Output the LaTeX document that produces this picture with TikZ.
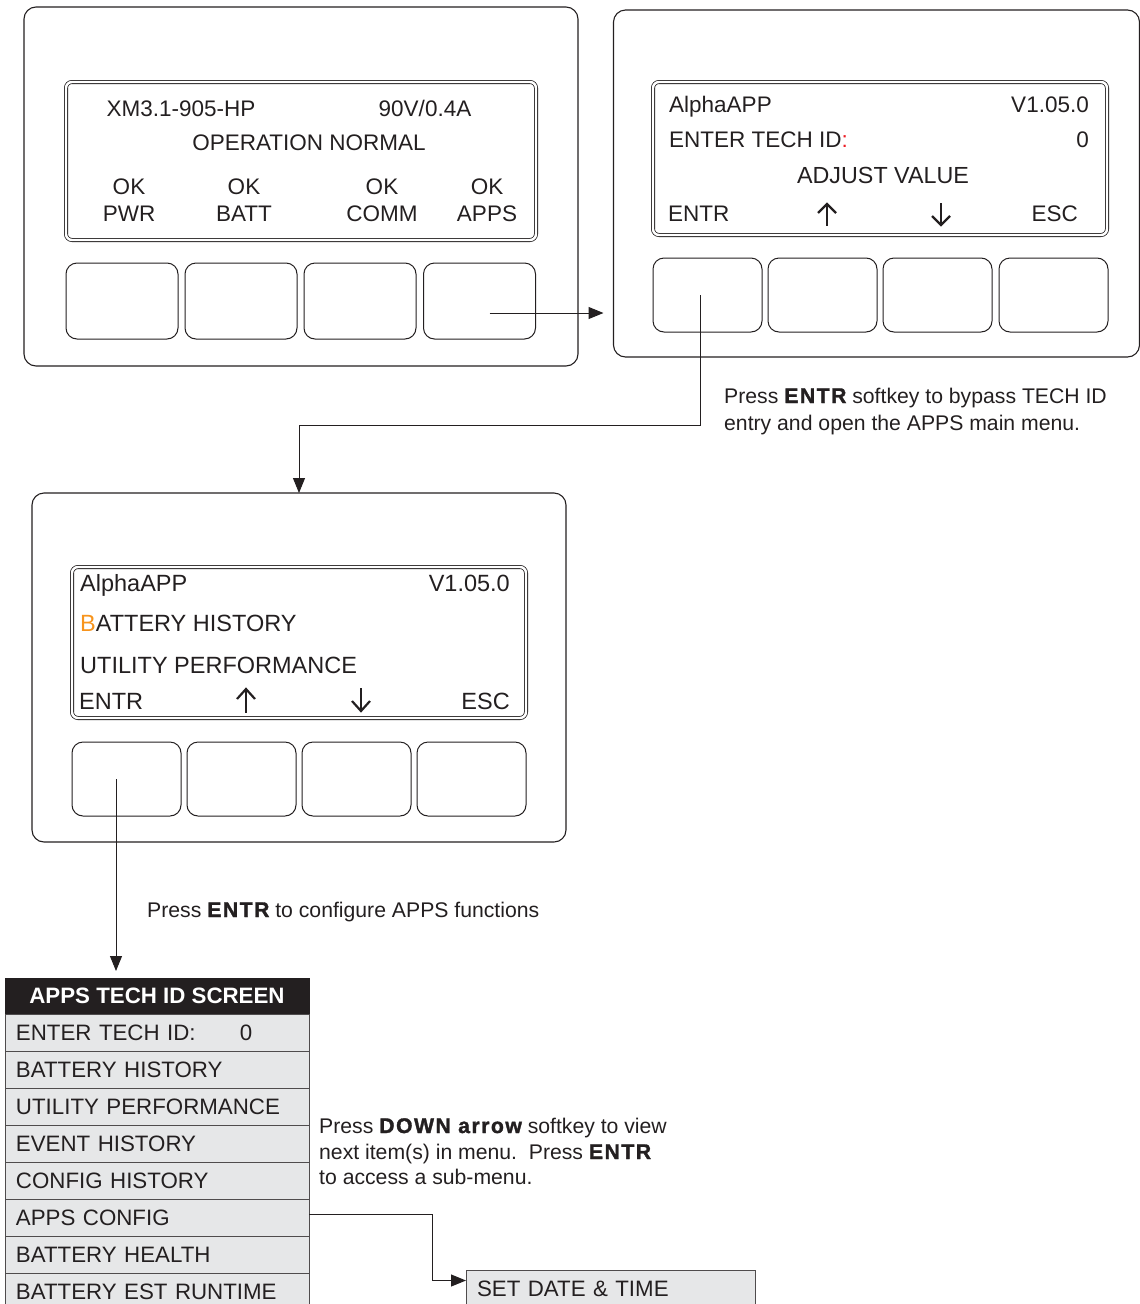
\documentclass[tikz,border=0pt]{standalone}
\usepackage{fontspec}
\setmainfont{Liberation Sans}
\newfontface\heavy{Liberation Sans Bold}[FakeBold=1.5, LetterSpace=7]
\newcommand{\hv}[1]{{\heavy #1}}
\usetikzlibrary{arrows.meta,calc}
\definecolor{ink}{HTML}{231F20}
\definecolor{rowgray}{HTML}{E6E7E8}
\definecolor{hiorange}{HTML}{F7941D}
\definecolor{hired}{HTML}{ED1C24}
\begin{document}
\begin{tikzpicture}[x=1pt,y=-1pt,
  every node/.append style={text=ink},
  panel/.style={draw=ink, line width=1.1pt, rounded corners=12pt, inner sep=0pt, outer sep=0pt},
  screen/.style={draw=ink, line width=0.8pt, double=white, double distance=2.4pt, rounded corners=6pt, inner sep=0pt, outer sep=0pt},
  btnA/.style={draw=ink, line width=1pt, rounded corners=11pt, minimum width=112pt, minimum height=76pt, inner sep=0pt, outer sep=0pt},
  btnB/.style={draw=ink, line width=1pt, rounded corners=11pt, minimum width=109pt, minimum height=74pt, inner sep=0pt, outer sep=0pt},
  lcd/.style={font=\fontsize{22.5}{26}\selectfont, inner sep=0pt},
  lcdb/.style={font=\fontsize{23.5}{27}\selectfont, inner sep=0pt},
  note/.style={font=\fontsize{21.2}{25}\selectfont, inner sep=0pt, anchor=base west},
  arr/.style={draw=ink, line width=1pt, -{Triangle[length=15pt,width=12pt]}},
  glyph/.style={draw=ink, line width=2.2pt},
  hdr/.style={fill=ink, draw=ink, line width=0.8pt, minimum width=304pt, minimum height=36pt, inner sep=0pt, outer sep=0pt, font=\fontsize{22.3}{25}\bfseries\selectfont, text=white},
  mrow/.style={fill=rowgray, draw=ink!80, line width=1pt, minimum height=37pt, text width=282pt, inner xsep=11pt, inner ysep=0pt, outer sep=0pt, align=left, anchor=north west, font=\fontsize{22.3}{25}\selectfont},
]
\useasboundingbox (0,0) rectangle (1140,1304);

% ---------------- Panel 1 ----------------
\node[panel, minimum width=554pt, minimum height=359pt] (p1) at (301,186.5) {};
\node[screen, minimum width=470pt, minimum height=158pt] (p1s) at (301,161) {};
\node[btnA] (p1b1) at (122,301) {};
\node[btnA] (p1b2) at (241,301) {};
\node[btnA] (p1b3) at (360,301) {};
\node[btnA] (p1b4) at (479.5,301) {};
\node[lcd, anchor=base] (t11) at (181,116) {XM3.1-905-HP};
\node[lcd, anchor=base] (t12) at (425,116) {90V/0.4A};
\node[lcd, anchor=base] (t13) at (309,150) {OPERATION NORMAL};
\node[lcd, anchor=base] (t14) at (129,194) {OK};
\node[lcd, anchor=base] (t15) at (129,221) {PWR};
\node[lcd, anchor=base] (t16) at (244,194) {OK};
\node[lcd, anchor=base] (t17) at (244,221) {BATT};
\node[lcd, anchor=base] (t18) at (382,194) {OK};
\node[lcd, anchor=base] (t19) at (382,221) {COMM};
\node[lcd, anchor=base] (t1a) at (487,194) {OK};
\node[lcd, anchor=base] (t1b) at (487,221) {APPS};

% ---------------- Panel 2 ----------------
\node[panel, minimum width=526pt, minimum height=347pt] (p2) at (876.5,183.5) {};
\node[screen, minimum width=454pt, minimum height=153pt] (p2s) at (880,158.5) {};
\node[btnB] (p2b1) at (707.5,295) {};
\node[btnB] (p2b2) at (822.5,295) {};
\node[btnB] (p2b3) at (937.5,295) {};
\node[btnB] (p2b4) at (1053.5,295) {};
\node[lcd, anchor=base west] (t21) at (669,112) {AlphaAPP};
\node[lcd, anchor=base east] (t22) at (1089,112) {V1.05.0};
\node[lcd, anchor=base west] (t23) at (669,147) {ENTER TECH ID\textcolor{hired}{:}};
\node[lcd, anchor=base east] (t24) at (1089,147) {0};
\node[lcd, anchor=base, font=\fontsize{23.3}{26}\selectfont] (t25) at (883,183) {ADJUST VALUE};
\node[lcd, anchor=base west] (t26) at (668,221) {ENTR};
\node[lcd, anchor=base east] (t27) at (1078,221) {ESC};
\draw[glyph] (827,205) -- (827,226);
\draw[glyph] (818,213) -- (827,204) -- (836,213);
\draw[glyph] (941,203) -- (941,224);
\draw[glyph] (932,216) -- (941,225) -- (950,216);

% ---------------- Panel 3 ----------------
\node[panel, minimum width=534pt, minimum height=349pt] (p3) at (299,667.5) {};
\node[screen, minimum width=454pt, minimum height=151pt] (p3s) at (299,642.5) {};
\node[btnB] (p3b1) at (126.5,779) {};
\node[btnB] (p3b2) at (241.5,779) {};
\node[btnB] (p3b3) at (356.5,779) {};
\node[btnB] (p3b4) at (471.5,779) {};
\node[lcdb, anchor=base west] (t31) at (80,591) {AlphaAPP};
\node[lcdb, anchor=base east] (t32) at (510,591) {V1.05.0};
\node[lcdb, anchor=base west] (t33) at (80,631) {\textcolor{hiorange}{B}ATTERY HISTORY};
\node[lcdb, anchor=base west] (t34) at (80,673) {UTILITY PERFORMANCE};
\node[lcdb, anchor=base west] (t35) at (79,709) {ENTR};
\node[lcdb, anchor=base east] (t36) at (510,709) {ESC};
\draw[glyph] (246,690) -- (246,713);
\draw[glyph] (237,699) -- (246,689) -- (255,699);
\draw[glyph] (361,688) -- (361,710);
\draw[glyph] (352,701) -- (361,711) -- (370,701);

% ---------------- Notes ----------------
\node[note] (n1) at (724,403) {Press \hv{ENTR} softkey to bypass TECH ID};
\node[note] (n2) at (724,430) {entry and open the APPS main menu.};
\node[note] (n3) at (147,917) {Press \hv{ENTR} to configure APPS functions};
\node[note] (n4) at (319,1133) {Press \hv{DOWN arrow} softkey to view};
\node[note] (n5) at (319,1159) {next item(s) in menu.\ \ Press \hv{ENTR}};
\node[note] (n6) at (319,1184) {to access a sub-menu.};

% ---------------- Menu table ----------------
\node[hdr] (hd) at (157,996) {APPS TECH ID SCREEN};
\node[mrow] (r0) at (5,1014) {\makebox[224pt][l]{ENTER TECH ID:}0};
\node[mrow] (r1) at (5,1051) {BATTERY HISTORY};
\node[mrow] (r2) at (5,1088) {UTILITY PERFORMANCE};
\node[mrow] (r3) at (5,1125) {EVENT HISTORY};
\node[mrow] (r4) at (5,1162) {CONFIG HISTORY};
\node[mrow] (r5) at (5,1199) {APPS CONFIG};
\node[mrow] (r6) at (5,1236) {BATTERY HEALTH};
\node[mrow] (r7) at (5,1273) {BATTERY EST RUNTIME};

\node[mrow, text width=267pt] (sd) at (466,1270) {SET DATE \& TIME};

% ---------------- Connectors ----------------
\coordinate (c1) at ($(p1b4.center)+(10,12)$);
\coordinate (c2) at ($(p2b1.center)+(-7,0)$);
\coordinate (c3) at ($(p3.north)+(0,-68)$);
\coordinate (c4) at ($(p3b1.center)+(-10.5,0)$);
\coordinate (c5) at ($(r5.east)+(0,-3)$);
\coordinate (c6) at ($(sd.west)+(0,-8)$);
\draw[arr, shorten >=10pt] (c1) -- (c1 -| p2.west);
\draw[arr] (c2) |- (c3) -- (p3.north);
\draw[arr, shorten >=7pt] (c4) -- (c4 |- hd.north);
\draw[arr] (c5) -- ++(123,0) |- (c6);
\end{tikzpicture}
\end{document}
